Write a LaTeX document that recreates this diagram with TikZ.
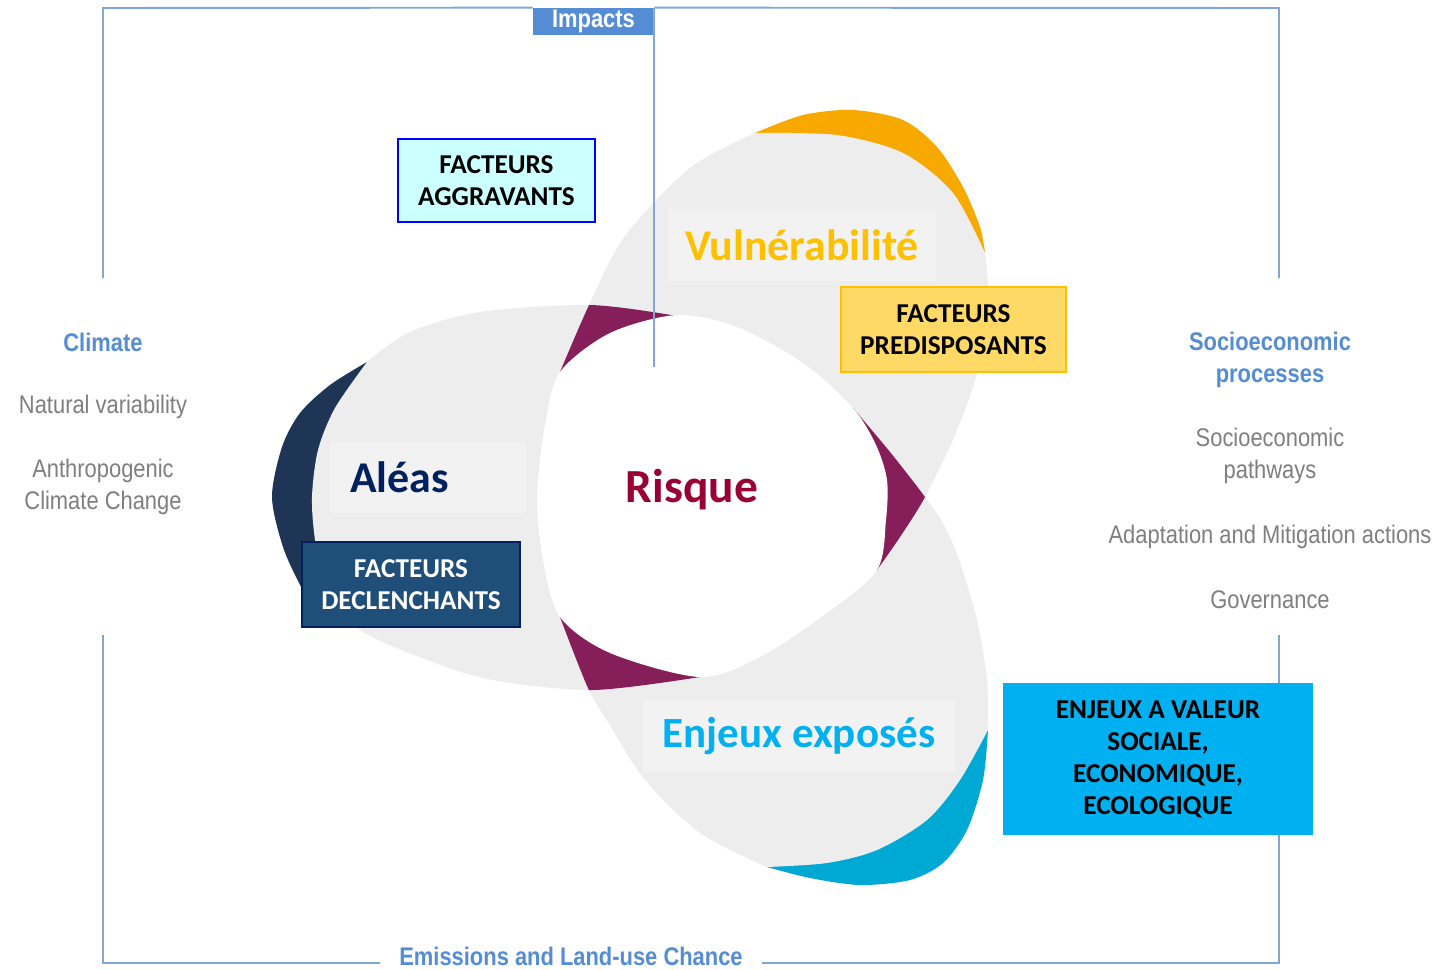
\documentclass[tikz,border=0pt]{standalone}
\usepackage{fontspec}
\setmainfont{Carlito}
\newfontfamily\narrowfont[FakeStretch=0.86]{Liberation Sans}
\usepackage{tikz}
\usetikzlibrary{calc}

\definecolor{shapegray}{RGB}{237,237,237}
\definecolor{lblgray}{RGB}{242,242,242}
\definecolor{riskpurple}{RGB}{134,30,90}
\definecolor{aleasnavy}{RGB}{31,53,86}
\definecolor{vulnorange}{RGB}{248,169,0}
\definecolor{enjcyan}{RGB}{0,168,212}
\definecolor{aleastext}{RGB}{0,32,96}
\definecolor{vulntext}{RGB}{255,192,0}
\definecolor{risktext}{RGB}{153,0,51}
\definecolor{enjtext}{RGB}{0,176,240}
\definecolor{frameblue}{RGB}{84,141,212}
\definecolor{framegray}{RGB}{127,127,127}
\definecolor{frameline}{RGB}{127,167,217}
\definecolor{aggfill}{RGB}{204,255,255}
\definecolor{aggdraw}{RGB}{0,0,255}
\definecolor{predfill}{RGB}{255,217,102}
\definecolor{preddraw}{RGB}{255,192,0}
\definecolor{declfill}{RGB}{31,78,121}
\definecolor{decldraw}{RGB}{0,32,96}
\definecolor{enjfill}{RGB}{0,176,240}

% outlines (in pixels) of the three shapes and of the centre
\newcommand{\shapeAleas}{plot[smooth] coordinates {(677,316) (590,305) (480,312) (410,332) (367,362)}
  -- plot[smooth] coordinates {(367,362) (335,408) (318,450) (312,497) (315,540) (325,590) (360,630) (427,660) (493,680) (593,690) (700,677)}
  -- (770,620) -- (800,500) -- (760,360) -- cycle}
\newcommand{\shapeVuln}{plot[smooth] coordinates {(560,372) (590,303) (625,236) (690,168) (755,133)}
  -- plot[smooth] coordinates {(755,133) (837,135) (903,153) (953,193) (985,253)}
  -- plot[smooth] coordinates {(985,253) (988,300) (978,370) (955,435) (925,497) (900,537) (877,570)}
  -- (800,600) -- (640,560) -- (572,440) -- cycle}
\newcommand{\shapeEnjeux}{plot[smooth] coordinates {(853,408) (890,452) (925,497) (945,527) (960,563) (977,620) (987,680) (988,730)}
  -- plot[smooth] coordinates {(988,730) (960,780) (927,820) (877,850) (827,863) (767,867)}
  -- plot[smooth] coordinates {(767,867) (700,833) (645,780) (610,725) (588,688) (560,617)}
  -- (575,540) -- (680,440) -- (810,400) -- cycle}
\newcommand{\shapeRisque}{plot[smooth cycle] coordinates {(537,497) (543,560) (560,617) (610,653) (700,677) (760,657) (827,613) (877,570) (886,520) (887,480) (876,445) (853,408) (803,363) (737,327) (677,315) (610,333) (560,372) (545,425)}}

\begin{document}
\begin{tikzpicture}[x=0.02cm,y=-0.02cm,
    every node/.style={inner sep=0pt},
    frametitle/.style={font=\narrowfont\bfseries\fontsize{14.5}{18.6}\selectfont,text=frameblue,align=center},
    frametext/.style={font=\narrowfont\fontsize{14.5}{18.2}\selectfont,text=framegray,align=center},
    framerule/.style={draw=frameline,line width=1.1pt},
    facteurs/.style={draw,line width=1.1pt,align=center,font=\bfseries\fontsize{15.5}{18.2}\selectfont},
    mainlabel/.style={fill=lblgray,font=\bfseries\fontsize{25}{30}\selectfont}]

    \useasboundingbox (0,0) rectangle (1437,970);
    \fill[white] (0,0) rectangle (1437,970);

    % coloured ends of the shapes
    \fill[aleasnavy] plot[smooth] coordinates {(367,362) (330,385) (300,413) (282,447) (272,497) (283,547) (300,585) (315,612)} -- (345,600) -- (380,400) -- cycle;
    \fill[vulnorange] plot[smooth] coordinates {(755,133) (803,115) (853,110) (903,120) (937,147) (963,187) (980,227) (985,253)} -- (950,230) -- (840,150) -- cycle;
    \fill[enjcyan] plot[smooth] coordinates {(988,730) (983,780) (967,830) (943,863) (910,880) (860,885) (810,878) (767,867)} -- (830,840) -- (950,760) -- cycle;

    % the three shapes
    \fill[shapegray] \shapeAleas;
    \fill[shapegray] \shapeVuln;
    \fill[shapegray] \shapeEnjeux;

    % overlaps
    \begin{scope}
        \clip \shapeAleas;
        \fill[riskpurple] \shapeVuln;
        \fill[riskpurple] \shapeEnjeux;
    \end{scope}
    \begin{scope}
        \clip \shapeVuln;
        \fill[riskpurple] \shapeEnjeux;
    \end{scope}
    \fill[white] \shapeRisque;

    % frame
    \coordinate (frameTL) at (103,8);
    \coordinate (frameTR) at (1279,8);
    \coordinate (frameBL) at (103,963);
    \coordinate (frameBR) at (1279,963);
    \coordinate (leftTop) at (103,278);
    \coordinate (leftBot) at (103,635);
    \coordinate (rightTop) at (1279,278);
    \coordinate (rightBot) at (1279,635);

    \node[fill=frameblue,text=white,font=\narrowfont\bfseries\fontsize{14.5}{17}\selectfont,
          minimum width=2.42cm,minimum height=0.54cm] (impacts) at (593.5,21.5) {Impacts};
    \node[frametitle,inner xsep=0.38cm] (emissions) at (571,956) {Emissions and Land-use Chance};
    \coordinate (impactsEnd) at ($(impacts.south east)+(0,332)$);

    \draw[framerule] (leftTop) -- (frameTL) -- (impacts.north west);
    \draw[framerule] (impacts.north east) -- (frameTR) -- (rightTop);
    \draw[framerule] (impacts.north east) -- (impactsEnd);
    \draw[framerule] (leftBot) -- (frameBL) -- (frameBL -| emissions.west);
    \draw[framerule] (frameBR -| emissions.east) -- (frameBR) -- (rightBot);

    % side texts
    \node[frametitle] (climate) at (103,342) {Climate};
    \node[frametext] (natvar) at (103,407) {Natural variability};
    \node[frametext] (anthro) at (103,487) {Anthropogenic\\Climate Change};
    \node[frametitle] (socproc) at (1270,360) {Socioeconomic\\processes};
    \node[frametext] (socpath) at (1270,456) {Socioeconomic\\pathways};
    \node[frametext] (adapt) at (1270,537) {Adaptation and Mitigation actions};
    \node[frametext] (gov) at (1270,600) {Governance};

    % labels of the shapes
    \node[mainlabel,minimum width=3.92cm,minimum height=1.42cm,text width=3.12cm,inner xsep=0.4cm,
          align=left,text=aleastext] (aleas) at (428,477.5) {Aléas};
    \node[mainlabel,minimum width=5.36cm,minimum height=1.44cm,text=vulntext] (vuln) at (802,245) {Vulnérabilité};
    \node[mainlabel,minimum width=6.24cm,minimum height=1.44cm,text=enjtext,font=\bfseries\fontsize{24.5}{30}\selectfont] (enjeux) at (799,736) {Enjeux exposés};
    \node[font=\bfseries\fontsize{27}{32}\selectfont,text=risktext] (risque) at (692,490) {Risque};

    % factor boxes
    \node[facteurs,draw=aggdraw,fill=aggfill,minimum width=3.94cm,minimum height=1.66cm] (aggrav) at (496.5,180.5) {FACTEURS\\AGGRAVANTS};
    \node[facteurs,draw=preddraw,fill=predfill,minimum width=4.5cm,minimum height=1.7cm] (predis) at (953.5,329.5) {FACTEURS\\PREDISPOSANTS};
    \node[facteurs,draw=decldraw,fill=declfill,text=white,minimum width=4.36cm,minimum height=1.7cm] (declen) at (411,584.5) {FACTEURS\\DECLENCHANTS};
    \node[facteurs,draw=enjfill,fill=enjfill,minimum width=6.16cm,minimum height=3cm] (enjval) at (1158,759) {ENJEUX A VALEUR\\SOCIALE,\\ECONOMIQUE,\\ECOLOGIQUE};

\end{tikzpicture}
\end{document}
